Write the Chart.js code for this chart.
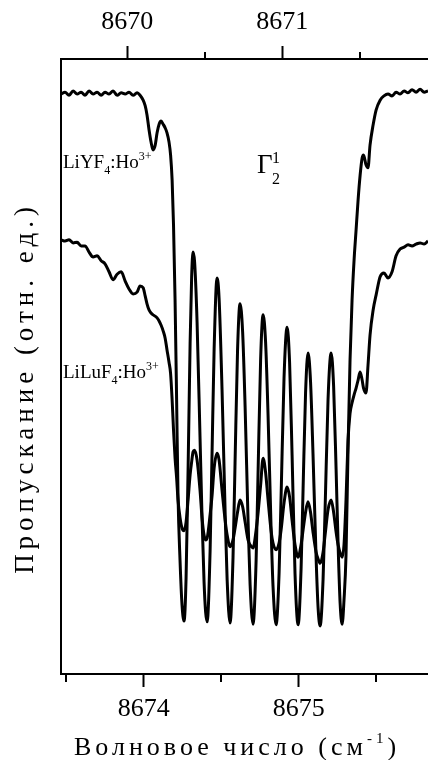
<!DOCTYPE html>
<html lang="ru">
<head>
<meta charset="UTF-8">
<title>LiYF4:Ho3+ / LiLuF4:Ho3+</title>
<script src="https://cdn.jsdelivr.net/npm/chart.js"></script>
<style>
    html, body { margin: 0; padding: 0; background: #fff; }
    .wrap { width: 428px; height: 760px; position: relative; }
</style>
</head>
<body>
<div class="wrap"><canvas id="chart"></canvas></div>
<script>
// LiYF4:Ho3+ – upper axis (cm-1)
const wnLiYF4 = [
    8669.573, 8669.598, 8669.624, 8669.650, 8669.676, 8669.702, 8669.727, 8669.753, 8669.779, 8669.805,
    8669.831, 8669.856, 8669.882, 8669.908, 8669.934, 8669.960, 8669.986, 8670.011, 8670.037, 8670.063,
    8670.082, 8670.102, 8670.115, 8670.127, 8670.140, 8670.153, 8670.166, 8670.179, 8670.192, 8670.205,
    8670.218, 8670.231, 8670.244, 8670.256, 8670.269, 8670.279, 8670.289, 8670.298, 8670.308, 8670.318,
    8670.327, 8670.340, 8670.353, 8670.366, 8670.379, 8670.392, 8670.405, 8670.415, 8670.424, 8670.434,
    8670.450, 8670.469, 8670.482, 8670.495, 8670.505, 8670.515, 8670.534, 8670.547, 8670.560, 8670.579,
    8670.592, 8670.611, 8670.631, 8670.644, 8670.663, 8670.682, 8670.695, 8670.711, 8670.727, 8670.744,
    8670.760, 8670.779, 8670.792, 8670.811, 8670.831, 8670.844, 8670.860, 8670.876, 8670.892, 8670.908,
    8670.927, 8670.940, 8670.960, 8670.979, 8670.992, 8671.011, 8671.031, 8671.047, 8671.063, 8671.082,
    8671.102, 8671.121, 8671.134, 8671.150, 8671.166, 8671.182, 8671.198, 8671.218, 8671.231, 8671.244,
    8671.263, 8671.276, 8671.295, 8671.315, 8671.331, 8671.347, 8671.360, 8671.373, 8671.386, 8671.398,
    8671.411, 8671.424, 8671.437, 8671.450, 8671.463, 8671.476, 8671.489, 8671.502, 8671.515, 8671.524,
    8671.540, 8671.553, 8671.566, 8671.586, 8671.605, 8671.631, 8671.656, 8671.682, 8671.708, 8671.734,
    8671.760, 8671.786, 8671.811, 8671.837, 8671.863, 8671.889, 8671.915, 8671.940
];
const trLiYF4 = [
    0.943, 0.946, 0.941, 0.948, 0.943, 0.946, 0.941, 0.948, 0.943, 0.946,
    0.941, 0.946, 0.943, 0.948, 0.941, 0.945, 0.943, 0.946, 0.941, 0.945,
    0.941, 0.933, 0.924, 0.909, 0.885, 0.865, 0.852, 0.859, 0.880, 0.894,
    0.899, 0.894, 0.888, 0.880, 0.865, 0.844, 0.803, 0.730, 0.608, 0.446,
    0.291, 0.185, 0.112, 0.086, 0.156, 0.333, 0.537, 0.646, 0.686, 0.670,
    0.572, 0.385, 0.255, 0.150, 0.101, 0.085, 0.200, 0.364, 0.528, 0.644,
    0.611, 0.463, 0.263, 0.153, 0.083, 0.190, 0.343, 0.525, 0.602, 0.556,
    0.434, 0.249, 0.146, 0.081, 0.185, 0.333, 0.511, 0.584, 0.540, 0.421,
    0.242, 0.143, 0.080, 0.163, 0.288, 0.481, 0.564, 0.506, 0.356, 0.163,
    0.080, 0.171, 0.301, 0.457, 0.522, 0.476, 0.358, 0.189, 0.107, 0.078,
    0.154, 0.268, 0.446, 0.522, 0.468, 0.333, 0.210, 0.115, 0.081, 0.120,
    0.193, 0.364, 0.511, 0.608, 0.673, 0.722, 0.771, 0.811, 0.839, 0.844,
    0.828, 0.823, 0.860, 0.893, 0.917, 0.933, 0.940, 0.943, 0.940, 0.946,
    0.943, 0.948, 0.945, 0.950, 0.946, 0.951, 0.946, 0.948
];

// LiLuF4:Ho3+ – lower axis (cm-1)
const wnLiLuF4 = [
    8673.467, 8673.492, 8673.518, 8673.544, 8673.570, 8673.596, 8673.621, 8673.647, 8673.673, 8673.699,
    8673.725, 8673.750, 8673.776, 8673.802, 8673.828, 8673.854, 8673.880, 8673.905, 8673.931, 8673.957,
    8673.976, 8673.996, 8674.009, 8674.021, 8674.034, 8674.047, 8674.060, 8674.073, 8674.086, 8674.099,
    8674.112, 8674.125, 8674.138, 8674.150, 8674.163, 8674.173, 8674.183, 8674.192, 8674.202, 8674.212,
    8674.221, 8674.234, 8674.247, 8674.260, 8674.273, 8674.286, 8674.299, 8674.309, 8674.318, 8674.328,
    8674.344, 8674.363, 8674.376, 8674.389, 8674.399, 8674.409, 8674.428, 8674.441, 8674.454, 8674.473,
    8674.486, 8674.505, 8674.525, 8674.538, 8674.557, 8674.576, 8674.589, 8674.605, 8674.621, 8674.638,
    8674.654, 8674.673, 8674.686, 8674.705, 8674.725, 8674.738, 8674.754, 8674.770, 8674.786, 8674.802,
    8674.821, 8674.834, 8674.854, 8674.873, 8674.886, 8674.905, 8674.925, 8674.941, 8674.957, 8674.976,
    8674.996, 8675.015, 8675.028, 8675.044, 8675.060, 8675.076, 8675.092, 8675.112, 8675.125, 8675.138,
    8675.157, 8675.170, 8675.189, 8675.209, 8675.225, 8675.241, 8675.254, 8675.267, 8675.280, 8675.292,
    8675.305, 8675.318, 8675.331, 8675.344, 8675.357, 8675.370, 8675.383, 8675.396, 8675.409, 8675.418,
    8675.434, 8675.447, 8675.460, 8675.480, 8675.499, 8675.525, 8675.550, 8675.576, 8675.602, 8675.628,
    8675.654, 8675.680, 8675.705, 8675.731, 8675.757, 8675.783, 8675.809, 8675.834
];
const trLiLuF4 = [
    0.706, 0.704, 0.706, 0.701, 0.702, 0.696, 0.696, 0.686, 0.678, 0.680,
    0.672, 0.667, 0.654, 0.641, 0.650, 0.654, 0.639, 0.626, 0.618, 0.621,
    0.631, 0.628, 0.615, 0.602, 0.592, 0.587, 0.584, 0.582, 0.579, 0.574,
    0.567, 0.558, 0.546, 0.527, 0.507, 0.489, 0.446, 0.397, 0.351, 0.319,
    0.283, 0.254, 0.237, 0.233, 0.247, 0.283, 0.324, 0.345, 0.361, 0.364,
    0.348, 0.299, 0.254, 0.226, 0.218, 0.221, 0.259, 0.291, 0.335, 0.359,
    0.348, 0.299, 0.250, 0.226, 0.207, 0.218, 0.237, 0.263, 0.283, 0.272,
    0.247, 0.218, 0.210, 0.205, 0.234, 0.263, 0.307, 0.351, 0.328, 0.283,
    0.234, 0.213, 0.202, 0.213, 0.234, 0.278, 0.304, 0.288, 0.250, 0.210,
    0.190, 0.210, 0.234, 0.263, 0.280, 0.263, 0.231, 0.198, 0.187, 0.180,
    0.198, 0.226, 0.267, 0.283, 0.263, 0.231, 0.210, 0.197, 0.190, 0.210,
    0.283, 0.380, 0.424, 0.441, 0.454, 0.465, 0.478, 0.491, 0.478, 0.465,
    0.457, 0.502, 0.551, 0.592, 0.616, 0.646, 0.652, 0.644, 0.654, 0.680,
    0.691, 0.694, 0.698, 0.696, 0.699, 0.701, 0.699, 0.704
];

const topTicks = [8670, 8671];
const topMinor = [8670.5, 8671.5];
const bottomTicks = [8674, 8675];
const bottomMinor = [8673.5, 8674.5, 8675.5];
const topRange = [8669.572, 8671.940];
const bottomRange = [8673.466, 8675.834];

const serif = '"Liberation Serif", "Times New Roman", serif';

function toPoints(xs, ys) {
    return xs.map((x, i) => ({ x: x, y: ys[i] }));
}

function xAxis(pos, range, majors, boxHeight, pad) {
    return {
        type: 'linear',
        position: pos,
        min: range[0],
        max: range[1],
        afterBuildTicks: s => { s.ticks = majors.map(v => ({ value: v })); },
        afterFit: s => { s.height = boxHeight; },
        ticks: {
            color: '#000',
            font: { family: serif, size: 26 },
            padding: pad,
            maxRotation: 0,
            callback: v => String(v)
        },
        grid: { drawOnChartArea: false, tickLength: 13, tickWidth: 2, tickColor: '#000' },
        border: { color: '#000', width: 2 }
    };
}

// draws text pieces one after another (sub/superscripts)
function rich(ctx, x, y, parts) {
    parts.forEach(p => {
        ctx.font = p.size + 'px ' + serif;
        ctx.fillText(p.t, x, y + (p.dy || 0));
        x += ctx.measureText(p.t).width;
    });
    return x;
}

function richWidth(ctx, parts) {
    let w = 0;
    parts.forEach(p => {
        ctx.font = p.size + 'px ' + serif;
        w += ctx.measureText(p.t).width;
    });
    return w;
}

const decorations = {
    id: 'decorations',
    afterDraw(chart) {
        const ctx = chart.ctx;
        const area = chart.chartArea;
        const sb = chart.scales.x;
        const st = chart.scales.xTop;
        ctx.save();

        // minor ticks
        ctx.strokeStyle = '#000';
        ctx.lineWidth = 2;
        bottomMinor.forEach(v => {
            const px = Math.round(sb.getPixelForValue(v));
            ctx.beginPath();
            ctx.moveTo(px, area.bottom);
            ctx.lineTo(px, area.bottom + 8);
            ctx.stroke();
        });
        topMinor.forEach(v => {
            const px = Math.round(st.getPixelForValue(v));
            ctx.beginPath();
            ctx.moveTo(px, area.top);
            ctx.lineTo(px, area.top - 7);
            ctx.stroke();
        });

        ctx.fillStyle = '#000';
        ctx.textAlign = 'left';
        ctx.textBaseline = 'alphabetic';

        // axis titles
        ctx.letterSpacing = '4px';
        const xTitle = [
            { t: 'Волновое число (см', size: 26 },
            { t: '-1', size: 15, dy: -12 },
            { t: ')', size: 26 }
        ];
        const xw = richWidth(ctx, xTitle);
        rich(ctx, 237 - xw / 2, 755, xTitle);

        ctx.letterSpacing = '5px';
        ctx.font = '27px ' + serif;
        ctx.translate(33, 388);
        ctx.rotate(-Math.PI / 2);
        ctx.textAlign = 'center';
        ctx.fillText('Пропускание (отн. ед.)', 0, 0);
        ctx.setTransform(1, 0, 0, 1, 0, 0);
        ctx.textAlign = 'left';
        ctx.letterSpacing = '0px';

        // sample labels
        rich(ctx, 63, 168, [
            { t: 'LiYF', size: 19 }, { t: '4', size: 12, dy: 6 },
            { t: ':Ho', size: 19 }, { t: '3+', size: 12, dy: -8 }
        ]);
        rich(ctx, 63, 378, [
            { t: 'LiLuF', size: 19 }, { t: '4', size: 12, dy: 6 },
            { t: ':Ho', size: 19 }, { t: '3+', size: 12, dy: -8 }
        ]);

        // level label
        ctx.font = '27px ' + serif;
        ctx.fillText('Γ', 257, 173);
        ctx.font = '16px ' + serif;
        ctx.fillText('1', 272, 163);
        ctx.fillText('2', 272, 184);

        ctx.restore();
    }
};

new Chart(document.getElementById('chart'), {
    type: 'line',
    data: {
        datasets: [
            {
                label: 'LiYF4:Ho3+',
                data: toPoints(wnLiYF4, trLiYF4),
                xAxisID: 'xTop',
                yAxisID: 'y'
            },
            {
                label: 'LiLuF4:Ho3+',
                data: toPoints(wnLiLuF4, trLiLuF4),
                xAxisID: 'x',
                yAxisID: 'y'
            }
        ]
    },
    options: {
        responsive: true,
        maintainAspectRatio: false,
        animation: false,
        devicePixelRatio: 1,
        parsing: false,
        layout: { padding: 0 },
        elements: {
            line: {
                borderColor: '#000',
                borderWidth: 3,
                borderJoinStyle: 'round',
                cubicInterpolationMode: 'monotone',
                fill: false
            },
            point: { radius: 0, hoverRadius: 0 }
        },
        plugins: {
            legend: { display: false },
            tooltip: { enabled: false }
        },
        scales: {
            xTop: xAxis('top', topRange, topTicks, 59, 8),
            x: xAxis('bottom', bottomRange, bottomTicks, 86, 7),
            y: {
                type: 'linear',
                position: 'left',
                min: 0,
                max: 1,
                afterFit: s => { s.width = 61; },
                ticks: { display: false },
                grid: { display: false, drawTicks: false },
                border: { color: '#000', width: 2 }
            }
        }
    },
    plugins: [decorations]
});
</script>
</body>
</html>
